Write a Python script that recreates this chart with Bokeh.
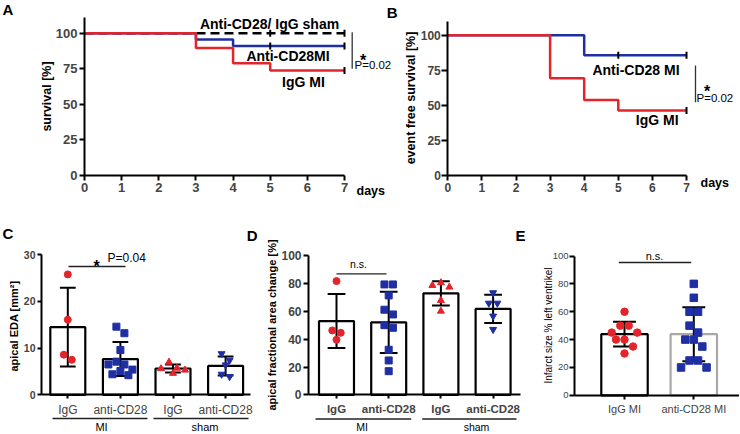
import numpy as np
from bokeh.plotting import figure
from bokeh.layouts import row, column
from bokeh.models import Range1d, FixedTicker, Label
from bokeh.embed import file_html
from bokeh.resources import INLINE

FONT = "Liberation Sans"
RED = "#e3242b"
BLUE = "#1f2fa3"
GREY = "#a8a8a8"

# ---------------- data ----------------
day_ticks = [0, 1, 2, 3, 4, 5, 6, 7]
surv_ticks = [0, 25, 50, 75, 100]

# A: survival [%]
a_time = [0, 3, 4, 5, 7]
a_sham = [100, 100, 100, 100, 100]
a_anti = [100, 95.5, 91.0, 91.0, 91.0]
a_igg = [100, 89.5, 78.9, 73.7, 73.7]
a_sham_cens = [5, 7]
a_anti_cens = [5, 7]
a_igg_cens = [7]

# B: event free survival [%]
b_time = [0, 3, 4, 5, 7]
b_anti = [100, 100, 85.7, 85.7, 85.7]
b_igg = [100, 69.2, 53.8, 46.2, 46.2]
b_anti_cens = [5, 7]
b_igg_cens = [7]

# C: apical EDA [mm2]
cd_labels = ["IgG", "anti-CD28", "IgG", "anti-CD28"]
cd_groups = ["MI", "sham"]
c_igg_mi = [25.8, 16.1, 8.6, 7.5]
c_anti_mi = [14.6, 13.2, 9.6, 6.5, 6.5, 7.1, 5.1, 5.4, 4.2, 4.4]
c_igg_sham = [7.0, 5.3, 4.6, 5.6, 5.7]
c_anti_sham = [8.8, 7.4, 6.4, 3.9, 4.4]
c_ticks = [0, 10, 20, 30]

# D: apical fractional area change [%]
d_igg_mi = [81.8, 46.3, 44.6, 39.6]
d_anti_mi = [79.4, 79.4, 71.5, 57.8, 61.2, 50.1, 48.2, 32.4, 24.7, 17.0]
d_igg_sham = [80.6, 78.7, 77.5, 67.9, 60.2]
d_anti_sham = [73.4, 65.9, 65.9, 56.6, 47.0]
d_ticks = [0, 20, 40, 60, 80, 100]

# E: infarct size
e_labels = ["IgG MI", "anti-CD28 MI"]
e_igg_mi = [60, 50, 50, 45, 45, 40, 40, 35, 30]
e_anti_mi = [80, 70, 60, 60, 50, 45, 40, 40, 35, 25, 25, 20, 20]
e_ticks = [0, 20, 40, 60, 80, 100]


# ---------------- helpers ----------------
class Panel:
    """A figure whose frame fills its whole canvas; xa/xb and ya/yb pin
    two data values to page pixels so the axes land where they should."""

    def __init__(self, canvas, xa, xb, ya, yb):
        cx0, cy0, cx1, cy1 = canvas
        self.ppx = (xb[1] - xa[1]) / (xb[0] - xa[0])
        self.xv, self.xp = xa
        self.ppy = (ya[1] - yb[1]) / (yb[0] - ya[0])
        self.yv, self.yp = ya
        self.p = figure(width=cx1 - cx0, height=cy1 - cy0,
                        x_range=Range1d(self.X(cx0), self.X(cx1)),
                        y_range=Range1d(self.Y(cy1), self.Y(cy0)),
                        min_border=0, min_border_left=0, min_border_right=0,
                        min_border_top=0, min_border_bottom=0,
                        output_backend="svg", toolbar_location=None, title=None)
        self.p.grid.visible = False
        self.p.outline_line_color = None
        self.p.background_fill_color = "white"
        self.p.border_fill_color = "white"

    def X(self, px):
        return self.xv + (px - self.xp) / self.ppx

    def Y(self, py):
        return self.yv + (self.yp - py) / self.ppy


def text(panel, px, py, s, size, style="normal", align="left", baseline="middle", angle=0.0):
    panel.p.add_layout(Label(x=panel.X(px), y=panel.Y(py), text=s, text_font=FONT,
                             text_font_size=f"{size}px", text_font_style=style,
                             text_align=align, text_baseline=baseline,
                             text_color="black", angle=angle))


def ytitle(panel, px, py, s, size, style):
    text(panel, px, py, s, size, style, "center", "middle", np.pi / 2)


def seg(panel, px0, py0, px1, py1, width=1.3, color="#222222"):
    panel.p.segment(x0=[panel.X(px0)], y0=[panel.Y(py0)], x1=[panel.X(px1)], y1=[panel.Y(py1)],
                    line_color=color, line_width=width)


def style_axis(ax, size, style, tick_out=5, standoff=2, width=2):
    ax.axis_line_width = width
    ax.major_tick_line_width = width
    ax.major_tick_in = 0
    ax.major_tick_out = tick_out
    ax.minor_tick_line_color = None
    ax.major_label_text_font = FONT
    ax.major_label_text_font_size = f"{size}px"
    ax.major_label_text_font_style = style
    ax.major_label_standoff = standoff


def place_axes(panel, x_at, y_at, xbounds, ybounds):
    panel.p.xaxis.fixed_location = x_at
    panel.p.yaxis.fixed_location = y_at
    panel.p.xaxis.bounds = xbounds
    panel.p.yaxis.bounds = ybounds


def step_value(t, s, c):
    idx = max(i for i, tt in enumerate(t) if tt <= c)
    return s[idx]


def km(panel, t, s, color, dash="solid"):
    panel.p.step(x=t, y=s, mode="after", line_color=color, line_width=2.5, line_dash=dash)


def censor(panel, t, s, cens):
    panel.p.scatter(x=cens, y=[step_value(t, s, c) for c in cens], marker="dash",
                    angle=np.pi / 2, size=7, line_color="black", line_width=2)


def swarm(vals, ppx, ppy, diam):
    order = sorted(range(len(vals)), key=lambda i: -vals[i])
    rows = []
    for i in order:
        if rows and (vals[rows[-1][0]] - vals[i]) * ppy < diam:
            rows[-1].append(i)
        else:
            rows.append([i])
    offs = [0.0] * len(vals)
    for r in rows:
        n = len(r)
        slots = sorted([(j - (n - 1) / 2) * diam for j in range(n)], key=lambda v: (abs(v), v))
        for i, sl in zip(r, slots):
            offs[i] = sl / ppx
    return offs


def bars(panel, groups, markers, colors, outlines, bar_w, cap_w, msize, diam):
    p = panel.p
    xs = list(range(1, len(groups) + 1))
    means = [float(np.mean(v)) for v in groups]
    sds = [float(np.std(v, ddof=1)) for v in groups]
    lo = [m - s for m, s in zip(means, sds)]
    hi = [m + s for m, s in zip(means, sds)]
    p.vbar(x=xs, top=means, bottom=0, width=bar_w, fill_color="white",
           line_color=outlines, line_width=2.2)
    p.segment(x0=xs, y0=lo, x1=xs, y1=hi, line_color="black", line_width=2)
    p.segment(x0=[x - cap_w / 2 for x in xs], y0=hi, x1=[x + cap_w / 2 for x in xs], y1=hi,
              line_color="black", line_width=2)
    p.segment(x0=[x - cap_w / 2 for x in xs], y0=lo, x1=[x + cap_w / 2 for x in xs], y1=lo,
              line_color="black", line_width=2)
    for x, v, mk, col in zip(xs, groups, markers, colors):
        offs = swarm(v, panel.ppx, panel.ppy, diam)
        p.scatter(x=[x + o for o in offs], y=v, marker=mk, size=msize,
                  fill_color=col, line_color=col)


# ---------------- panel A ----------------
A = Panel((0, 0, 399, 206), (0, 84), (7, 344), (0, 174.7), (100, 32.7))
km(A, a_time, a_sham, "black", "9 5")
km(A, a_time, a_anti, BLUE)
km(A, a_time, a_igg, RED)
censor(A, a_time, a_sham, a_sham_cens)
censor(A, a_time, a_anti, a_anti_cens)
censor(A, a_time, a_igg, a_igg_cens)
A.p.xaxis.ticker = FixedTicker(ticks=day_ticks)
A.p.yaxis.ticker = FixedTicker(ticks=surv_ticks)
place_axes(A, 0, 0, (0, 7), (0, A.Y(17)))
style_axis(A.p.xaxis[0], 13, "bold", 5, 3)
style_axis(A.p.yaxis[0], 13, "bold", 5, 2)
ytitle(A, 46.5, 96, "survival [%]", 12.5, "bold")
seg(A, 351.7, 31.7, 351.7, 68.3, 1.3, "#333333")
text(A, 269, 23.3, "Anti-CD28/ IgG sham", 14, "bold", "center")
text(A, 287.5, 55.7, "Anti-CD28MI", 14, "bold", "center")
text(A, 303, 81, "IgG MI", 14, "bold", "center")
text(A, 362.5, 59.5, "*", 16, "bold", "center", "alphabetic")
text(A, 354, 64.5, "P=0.02", 11.5, "normal", "left")
text(A, 356, 190, "days", 12.5, "bold", "left")
text(A, 2, 0, "A", 15, "bold", "left", "top")
text(A, 391.7, 3, "B", 15, "bold", "center", "top")

# ---------------- panel B ----------------
B = Panel((399, 0, 739, 206), (0, 447.3), (7, 686), (0, 174.7), (100, 34.7))
km(B, b_time, b_anti, BLUE)
km(B, b_time, b_igg, RED)
censor(B, b_time, b_anti, b_anti_cens)
censor(B, b_time, b_igg, b_igg_cens)
B.p.xaxis.ticker = FixedTicker(ticks=day_ticks)
B.p.yaxis.ticker = FixedTicker(ticks=surv_ticks)
place_axes(B, 0, 0, (0, 7), (0, B.Y(20.7)))
style_axis(B.p.xaxis[0], 12, "bold", 5, 3)
style_axis(B.p.yaxis[0], 12, "bold", 6, 1)
ytitle(B, 410, 97.5, "event free survival [%]", 12.5, "bold")
seg(B, 695, 65, 695, 101.7, 1.3, "#333333")
text(B, 635.5, 69, "Anti-CD28 MI", 14, "bold", "center")
text(B, 656.7, 119, "IgG MI", 14, "bold", "center")
text(B, 706.7, 91, "*", 16, "bold", "center", "alphabetic")
text(B, 696, 97, "P=0.02", 11.5, "normal", "left")
text(B, 700, 182, "days", 12.5, "bold", "left")

# ---------------- panel C ----------------
C = Panel((0, 206, 260, 433), (1, 67.3), (4, 225.1), (0, 394.3), (30, 254.3))
bars(C, [c_igg_mi, c_anti_mi, c_igg_sham, c_anti_sham],
     ["circle", "square", "triangle", "inverted_triangle"],
     [RED, BLUE, RED, BLUE], ["black"] * 4, 0.665, 0.3, 7, 8)
C.p.xaxis.ticker = FixedTicker(ticks=[1, 2, 3, 4])
C.p.xaxis.major_label_overrides = {i + 1: s for i, s in enumerate(cd_labels)}
C.p.yaxis.ticker = FixedTicker(ticks=c_ticks)
place_axes(C, 0, C.X(41), (C.X(41), C.X(250)), (0, 30))
style_axis(C.p.xaxis[0], 12, "normal", 4, 4)
style_axis(C.p.yaxis[0], 10.5, "bold", 4, 2)
ytitle(C, 13.5, 325.5, "apical EDA [mm²]", 11, "bold")
seg(C, 68, 266, 125, 266)
text(C, 96, 265.7, "*", 16, "bold", "center", "alphabetic")
text(C, 107, 257, "P=0.04", 12, "normal", "left")
seg(C, 52, 418, 147, 418)
seg(C, 153, 418, 248, 418)
text(C, 101, 426.5, cd_groups[0], 11, "normal", "center")
text(C, 204.5, 426.5, cd_groups[1], 11, "normal", "center")
text(C, 2, 224, "C", 15, "bold", "left", "top")
text(C, 251.7, 226, "D", 15, "bold", "center", "top")

# ---------------- panel D ----------------
D = Panel((260, 206, 530, 433), (1, 336), (4, 492.6), (0, 394.3), (100, 255.3))
bars(D, [d_igg_mi, d_anti_mi, d_igg_sham, d_anti_sham],
     ["circle", "square", "triangle", "inverted_triangle"],
     [RED, BLUE, RED, BLUE], ["black"] * 4, 0.67, 0.34, 7, 8.5)
D.p.xaxis.ticker = FixedTicker(ticks=[1, 2, 3, 4])
D.p.xaxis.major_label_overrides = {i + 1: s for i, s in enumerate(cd_labels)}
D.p.yaxis.ticker = FixedTicker(ticks=d_ticks)
place_axes(D, 0, D.X(308), (D.X(308), D.X(520)), (0, 100))
style_axis(D.p.xaxis[0], 11.5, "bold", 4, 4)
style_axis(D.p.yaxis[0], 12, "bold", 5, 2)
ytitle(D, 271, 324.5, "apical fractional area change [%]", 11, "bold")
seg(D, 336, 273.3, 386, 273.3)
text(D, 358, 263, "n.s.", 10.5, "normal", "center")
seg(D, 315, 418.5, 410.7, 418.5)
seg(D, 421.7, 418.5, 516, 418.5)
text(D, 361.7, 426.5, cd_groups[0], 10.5, "normal", "center")
text(D, 476, 426.5, cd_groups[1], 10.5, "normal", "center")
text(D, 520, 226, "E", 15, "bold", "center", "top")

# ---------------- panel E ----------------
E = Panel((530, 206, 739, 433), (1, 624), (2, 693.3), (0, 394.8), (100, 255.5))
bars(E, [e_igg_mi, e_anti_mi], ["circle", "square"], [RED, BLUE],
     ["black", GREY], 0.67, 0.33, 7.5, 8.5)
E.p.xaxis.ticker = FixedTicker(ticks=[1, 2])
E.p.xaxis.major_label_overrides = {i + 1: s for i, s in enumerate(e_labels)}
E.p.yaxis.ticker = FixedTicker(ticks=e_ticks)
place_axes(E, 0, E.X(574), (E.X(574), E.X(739)), (0, 100))
style_axis(E.p.xaxis[0], 11, "normal", 4, 4)
style_axis(E.p.yaxis[0], 9.5, "normal", 5, 1)
ytitle(E, 548, 325, "Infarct size % left ventrikel", 10, "normal")
seg(E, 618.3, 262, 690.7, 262)
text(E, 654, 255, "n.s.", 11, "normal", "center")

layout = column(row(A.p, B.p), row(C.p, D.p, E.p))
open("out.html", "w").write(file_html(layout, INLINE))
